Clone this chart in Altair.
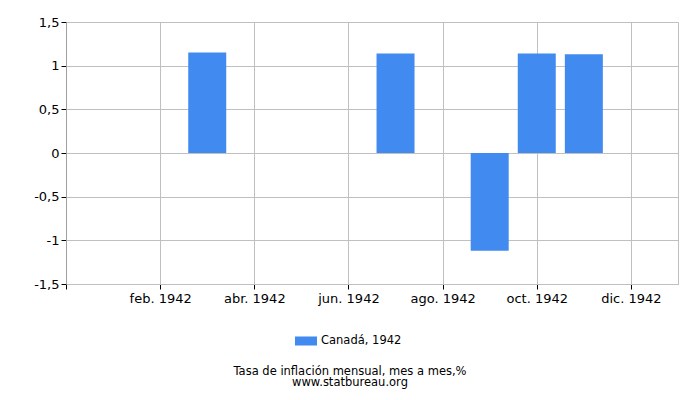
import altair as alt
import pandas as pd

# Data
month_idx = [1, 2, 3, 4, 5, 6, 7, 8, 9, 10, 11, 12]
values = [0, 0, 1.15, 0, 0, 0, 1.14, 0, -1.12, 1.14, 1.13, 0]
tick_values = [0, 2, 4, 6, 8, 10, 12]
tick_labels = ["", "feb. 1942", "abr. 1942", "jun. 1942", "ago. 1942", "oct. 1942", "dic. 1942"]
series_name = "Canadá, 1942"

df = pd.DataFrame({"m": month_idx, "v": values, "s": [series_name] * len(values)})

label_map = "{" + ",".join(f"'{v}':'{l}'" for v, l in zip(tick_values, tick_labels)) + "}"

chart = alt.Chart(df).mark_bar(size=38).encode(
    x=alt.X("m:Q",
            scale=alt.Scale(domain=[0, 13], nice=False, zero=False, padding=0),
            axis=alt.Axis(values=tick_values, labelExpr=f"{label_map}[toString(datum.value)]",
                          title=None, grid=True, gridColor="#c0c0c0", domainColor="#c0c0c0",
                          tickColor="#000000", tickSize=5, labelFontSize=13, labelColor="#000000",
                          labelFont="DejaVu Sans", labelPadding=3)),
    y=alt.Y("v:Q",
            scale=alt.Scale(domain=[-1.5, 1.5], nice=False),
            axis=alt.Axis(values=[-1.5, -1, -0.5, 0, 0.5, 1, 1.5],
                          labelExpr="replace(toString(datum.value), '.', ',')",
                          title=None, grid=True, gridColor="#c0c0c0", domainColor="#a0a0a0",
                          tickColor="#000000", tickSize=5, labelFontSize=13, labelColor="#000000",
                          labelFont="DejaVu Sans", labelPadding=2)),
    color=alt.Color("s:N", scale=alt.Scale(range=["#418BF0"]),
                    legend=alt.Legend(title=None, orient="none", legendX=229, legendY=308,
                                      symbolType="M-1,-0.41L1,-0.41L1,0.41L-1,0.41Z",
                                      symbolSize=484, symbolStrokeWidth=0,
                                      labelFontSize=11.5, labelFont="DejaVu Sans",
                                      labelColor="#000000")),
).properties(
    width=612, height=262,
    autosize=alt.AutoSizeParams(type="none"),
    padding={"left": 58, "top": 14, "right": 14, "bottom": 108},
    title=alt.TitleParams(
        text=["Tasa de inflación mensual, mes a mes,%", "www.statbureau.org"],
        orient="bottom", anchor="middle", fontSize=11.5, font="DejaVu Sans",
        fontWeight="normal", color="#000000", offset=19, dx=-22, lineHeight=11),
).configure_view(stroke="#c0c0c0")

chart.save("out.html", embed_options={"renderer": "svg", "actions": False})
